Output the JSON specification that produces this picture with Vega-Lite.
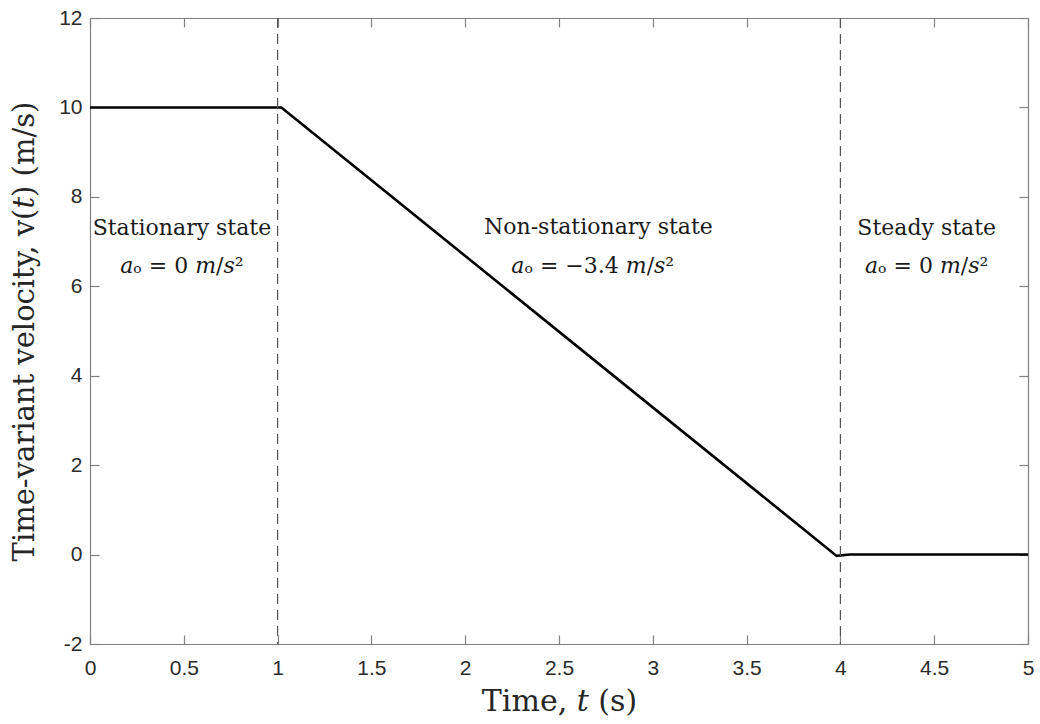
{
  "$schema": "https://vega.github.io/schema/vega-lite/v6.json",
  "width": 938,
  "height": 626,
  "autosize": {"type": "none"},
  "padding": {"left": 90, "top": 18, "right": 12, "bottom": 80},
  "background": "white",
  "datasets": {
    "velocity": [
      {"t": 0, "v": 10},
      {"t": 1.02, "v": 10},
      {"t": 3.98, "v": -0.03},
      {"t": 4.05, "v": 0},
      {"t": 5, "v": 0}
    ],
    "boundaries": [{"t": 1}, {"t": 4}],
    "notes": [
      {"t": 0.49, "v": 7.3, "label": "Stationary state"},
      {"t": 0.49, "v": 6.45, "label": "𝑎ₒ = 0 𝑚/𝑠²"},
      {"t": 2.71, "v": 7.33, "label": "Non-stationary state"},
      {"t": 2.68, "v": 6.45, "label": "𝑎ₒ = −3.4 𝑚/𝑠²"},
      {"t": 4.46, "v": 7.3, "label": "Steady state"},
      {"t": 4.46, "v": 6.45, "label": "𝑎ₒ = 0 𝑚/𝑠²"}
    ]
  },
  "config": {
    "view": {"stroke": null},
    "axis": {
      "grid": false,
      "domainColor": "#808080",
      "domainWidth": 1.2,
      "tickColor": "#808080",
      "tickWidth": 1.2,
      "tickSize": -9,
      "labelFont": "Liberation Sans",
      "labelFontSize": 21,
      "labelColor": "#2b2b2b",
      "labelFlush": false,
      "labelOverlap": false,
      "titleFont": "DejaVu Serif",
      "titleFontSize": 29,
      "titleFontWeight": "normal",
      "titleColor": "#262626"
    }
  },
  "layer": [
    {
      "data": {"name": "velocity"},
      "mark": {"type": "line", "color": "black", "strokeWidth": 2.6},
      "encoding": {
        "x": {
          "field": "t", "type": "quantitative",
          "scale": {"domain": [0, 5], "nice": false},
          "axis": {
            "orient": "bottom",
            "values": [0, 0.5, 1, 1.5, 2, 2.5, 3, 3.5, 4, 4.5, 5],
            "labelExpr": "toString(datum.value)",
            "labelPadding": 22,
            "title": "Time, 𝑡 (s)",
            "titleFontSize": 30,
            "titlePadding": 8
          }
        },
        "y": {
          "field": "v", "type": "quantitative",
          "scale": {"domain": [-2, 12], "nice": false},
          "axis": {
            "orient": "left",
            "values": [-2, 0, 2, 4, 6, 8, 10, 12],
            "labelExpr": "toString(datum.value)",
            "labelPadding": 17,
            "title": "Time-variant velocity, v(𝑡) (m/s)",
            "titlePadding": 19
          }
        }
      }
    },
    {
      "data": {"name": "boundaries"},
      "mark": {"type": "rule", "color": "#555555", "strokeWidth": 1.2, "strokeDash": [10, 6]},
      "encoding": {
        "x": {
          "field": "t", "type": "quantitative",
          "axis": {"orient": "top", "values": [0, 0.5, 1, 1.5, 2, 2.5, 3, 3.5, 4, 4.5, 5], "labels": false, "title": null}
        }
      }
    },
    {
      "data": {"name": "notes"},
      "mark": {"type": "text", "font": "DejaVu Serif", "fontSize": 22, "color": "#1a1a1a", "align": "center", "baseline": "middle"},
      "encoding": {
        "x": {"field": "t", "type": "quantitative", "axis": null},
        "y": {
          "field": "v", "type": "quantitative",
          "axis": {"orient": "right", "values": [-2, 0, 2, 4, 6, 8, 10, 12], "labels": false, "title": null}
        },
        "text": {"field": "label"}
      }
    }
  ]
}
